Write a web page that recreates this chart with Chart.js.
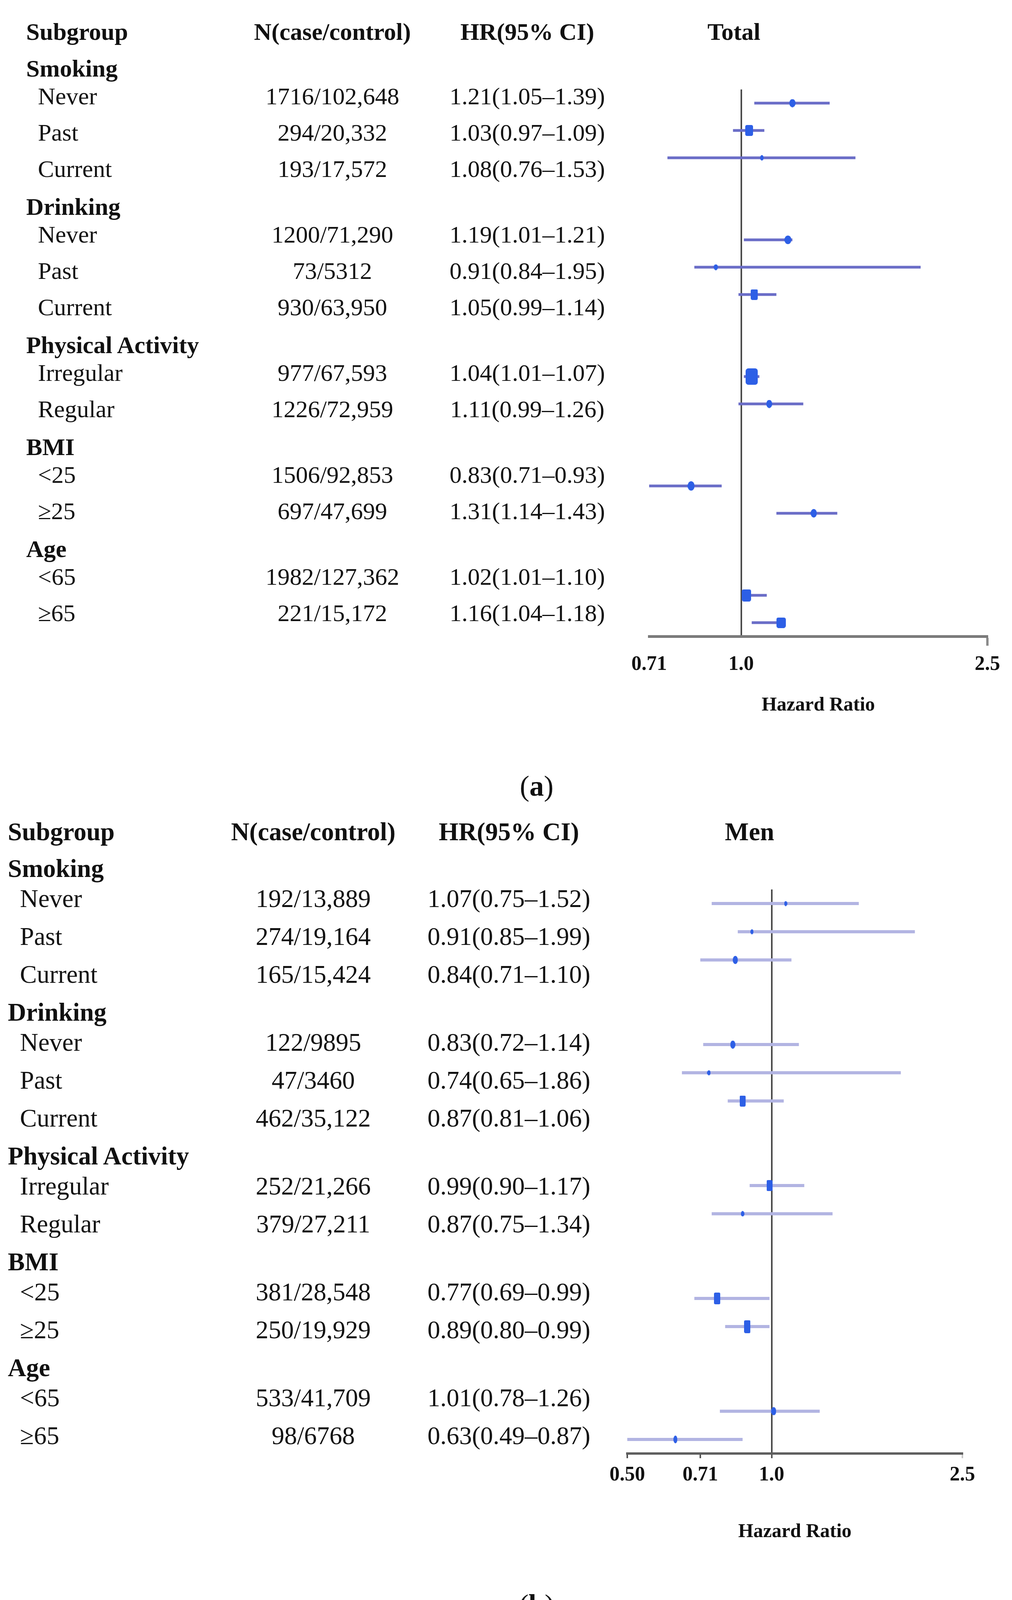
<!DOCTYPE html>
<html><head><meta charset="utf-8">
<script src="https://cdn.jsdelivr.net/npm/chart.js@4.4.1/dist/chart.umd.min.js"></script>
<style>
html,body{margin:0;padding:0;background:#fff;}
#page{position:relative;width:2591px;height:4173px;overflow:hidden;background:#fff;font-family:'Liberation Serif','Times New Roman',serif;color:#111;}
.t{position:absolute;white-space:nowrap;line-height:1;}
.c{transform:translateX(-50%);}
.b{font-weight:bold;}
canvas{position:absolute;}
</style></head><body><div id="page"></div>
<script>
// ---------------- DATA ----------------
const groupNames = ['Smoking', 'Drinking', 'Physical Activity', 'BMI', 'Age'];
const levelNames = [['Never', 'Past', 'Current'], ['Never', 'Past', 'Current'], ['Irregular', 'Regular'], ['<25', '\u226525'], ['<65', '\u226565']];

const totalN  = ['1716/102,648', '294/20,332', '193/17,572', '1200/71,290', '73/5312', '930/63,950', '977/67,593', '1226/72,959', '1506/92,853', '697/47,699', '1982/127,362', '221/15,172'];
const totalHR = [1.21, 1.03, 1.08, 1.19, 0.91, 1.05, 1.04, 1.11, 0.83, 1.31, 1.02, 1.16];
const totalLo = [1.05, 0.97, 0.76, 1.01, 0.84, 0.99, 1.01, 0.99, 0.71, 1.14, 1.01, 1.04];
const totalHi = [1.39, 1.09, 1.53, 1.21, 1.95, 1.14, 1.07, 1.26, 0.93, 1.43, 1.10, 1.18];

const menN  = ['192/13,889', '274/19,164', '165/15,424', '122/9895', '47/3460', '462/35,122', '252/21,266', '379/27,211', '381/28,548', '250/19,929', '533/41,709', '98/6768'];
const menHR = [1.07, 0.91, 0.84, 0.83, 0.74, 0.87, 0.99, 0.87, 0.77, 0.89, 1.01, 0.63];
const menLo = [0.75, 0.85, 0.71, 0.72, 0.65, 0.81, 0.90, 0.75, 0.69, 0.80, 0.78, 0.49];
const menHi = [1.52, 1.99, 1.10, 1.14, 1.86, 1.06, 1.17, 1.34, 0.99, 0.99, 1.26, 0.87];

const totalTicks = [0.71, 1.0, 2.5];
const totalTickLabels = ['0.71', '1.0', '2.5'];
const menTicks = [0.5, 0.71, 1.0, 2.5];
const menTickLabels = ['0.50', '0.71', '1.0', '2.5'];

const headers = ['Subgroup', 'N(case/control)', 'HR(95% CI)'];
const axisTitle = 'Hazard Ratio';

// ---------------- STYLE / LAYOUT ----------------
const page = document.getElementById('page');
const FONT = "'Liberation Serif','Times New Roman',serif";

function addText(txt, x, yc, size, bold, center) {
  const d = document.createElement('div');
  d.className = 't' + (bold ? ' b' : '') + (center ? ' c' : '');
  d.textContent = txt;
  d.style.left = x + 'px';
  d.style.top = (yc - size / 2) + 'px';
  d.style.fontSize = size + 'px';
  page.appendChild(d);
  return d;
}

function hrText(h, l, u) { return h.toFixed(2) + '(' + l.toFixed(2) + '\u2013' + u.toFixed(2) + ')'; }

function drawTable(L, nArr, hr, lo, hi, plotTitle) {
  addText(headers[0], L.xGroup, L.headerY, L.size, true, false);
  addText(headers[1], L.xN, L.headerY, L.size, true, true);
  addText(headers[2], L.xHR, L.headerY, L.size, true, true);
  addText(plotTitle, L.xPlot, L.headerY, L.size, true, true);
  let y = L.firstGroupY, k = 0;
  groupNames.forEach((g, gi) => {
    addText(g, L.xGroup, y, L.size, true, false);
    y += L.groupToLevel;
    levelNames[gi].forEach((lv, li) => {
      if (li > 0) y += L.levelStep;
      addText(lv, L.xLevel, y, L.size, false, false);
      addText(nArr[k], L.xN, y, L.size, false, true);
      addText(hrText(hr[k], lo[k], hi[k]), L.xHR, y, L.size, false, true);
      k++;
    });
    y += L.levelToGroup;
  });
}

function addCaption(letter, x, yc, size) {
  const d = document.createElement('div');
  d.className = 't c';
  d.style.left = x + 'px';
  d.style.top = (yc - size / 2) + 'px';
  d.style.fontSize = size + 'px';
  d.innerHTML = '(<b>' + letter + '</b>)';
  page.appendChild(d);
}

// row categories for the plots (two blank rows between groups)
const rowLabels = [];
const dataRowLabels = [];
groupNames.forEach((g, gi) => {
  levelNames[gi].forEach(l => { const key = g + ': ' + l; rowLabels.push(key); dataRowLabels.push(key); });
  if (gi < groupNames.length - 1) { rowLabels.push(' '.repeat(2 * gi + 1)); rowLabels.push(' '.repeat(2 * gi + 2)); }
});

function markerCanvas(m, color) {
  const w = m[0], h = m[1];
  const c = document.createElement('canvas');
  c.width = w; c.height = h;
  const g = c.getContext('2d');
  g.fillStyle = color;
  g.beginPath();
  if (m[2] === 'e') g.ellipse(w / 2, h / 2, w / 2, h / 2, 0, 0, Math.PI * 2);
  else if (g.roundRect) g.roundRect(0, 0, w, h, Math.min(w, h) * 0.22);
  else g.rect(0, 0, w, h);
  g.fill();
  return c;
}

function buildForest(S, hr, lo, hi, tickVals, tickLabels) {
  const cv = document.createElement('canvas');
  cv.width = S.width; cv.height = S.height;
  cv.style.left = S.left + 'px'; cv.style.top = S.top + 'px';
  cv.style.width = S.width + 'px'; cv.style.height = S.height + 'px';
  page.appendChild(cv);

  const datasets = [{
    data: hr.map((v, i) => ({ x: v, y: dataRowLabels[i] })),
    pointStyle: S.markers.map(m => markerCanvas(m, S.markerColor)),
    pointRadius: 6,
    showLine: false
  }];
  lo.forEach((l, i) => {
    datasets.push({
      data: [{ x: l, y: dataRowLabels[i] }, { x: hi[i], y: dataRowLabels[i] }],
      showLine: true, borderColor: S.ciColor, borderWidth: S.ciWidth,
      pointRadius: 0, borderCapStyle: 'butt', fill: false
    });
  });

  const tickFont = { family: FONT, weight: 'bold', size: S.tickFont };
  new Chart(cv, {
    type: 'scatter',
    data: { datasets },
    options: {
      responsive: false, animation: false, events: [],
      layout: { padding: S.pad },
      plugins: { legend: { display: false }, tooltip: { enabled: false } },
      scales: {
        y: { type: 'category', labels: rowLabels, offset: true, display: false },
        x: {
          type: 'logarithmic', min: tickVals[0], max: tickVals[tickVals.length - 1], bounds: 'data',
          afterBuildTicks: s => { s.ticks = tickVals.map(v => ({ value: v })); },
          afterFit: s => { s.height = S.axisHeight; },
          ticks: {
            callback: (v, i) => tickLabels[i], autoSkip: false, maxRotation: 0,
            font: tickFont, color: '#111', padding: S.tickPad
          },
          grid: {
            color: c => (c.tick && c.tick.value === 1) ? S.refColor : 'rgba(0,0,0,0)',
            lineWidth: S.refWidth,
            tickLength: S.tickLength,
            tickColor: c => S.tickColorFn(c.tick ? c.tick.value : 0),
            tickWidth: S.tickWidth
          },
          border: { display: true, color: S.borderColor, width: S.borderWidth },
          title: {
            display: true, text: axisTitle, color: '#111',
            font: { family: FONT, weight: 'bold', size: S.titleFont },
            padding: { top: 0, bottom: S.titlePadBottom }
          }
        }
      }
    }
  });
}

// ---------------- PANEL (a) ----------------
const tableA = { headerY: 81, firstGroupY: 175, groupToLevel: 71, levelStep: 93, levelToGroup: 97, size: 62,
  xGroup: 67, xLevel: 97, xN: 851, xHR: 1350, xPlot: 1879 };
drawTable(tableA, totalN, totalHR, totalLo, totalHi, 'Total');

const styleA = {
  left: 1540, top: 180, width: 1051, height: 1669,
  pad: { left: 122, right: 63, top: 49, bottom: 0 },
  axisHeight: 220, tickLength: 24, tickPad: 17, titlePadBottom: 13,
  tickFont: 52, titleFont: 50,
  ciColor: '#6a6dc7', ciWidth: 7, markerColor: '#2d5fe6',
  refColor: '#4a4a4a', refWidth: 4, borderColor: '#7b7b7b', borderWidth: 7,
  tickColorFn: v => v === 2.5 ? '#8a8a8a' : 'rgba(0,0,0,0)', tickWidth: 6,
  markers: [[16, 21, 'e'], [20, 28, 'r'], [9, 14, 'e'], [18, 22, 'e'], [11, 15, 'e'], [18, 27, 'r'],
            [31, 42, 'r'], [15, 21, 'e'], [18, 24, 'e'], [16, 22, 'e'], [24, 31, 'r'], [24, 27, 'r']]
};
buildForest(styleA, totalHR, totalLo, totalHi, totalTicks, totalTickLabels);
addCaption('a', 1374, 2012, 74);

// ---------------- PANEL (b) ----------------
const tableB = { headerY: 2129, firstGroupY: 2223, groupToLevel: 77, levelStep: 97, levelToGroup: 97, size: 65,
  xGroup: 20, xLevel: 51, xN: 802, xHR: 1303, xPlot: 1919 };
drawTable(tableB, menN, menHR, menLo, menHi, 'Men');

const styleB = {
  left: 1500, top: 2200, width: 1091, height: 1761,
  pad: { left: 106, right: 127, top: 77, bottom: 0 },
  axisHeight: 240, tickLength: 12, tickPad: 12, titlePadBottom: 9,
  tickFont: 52, titleFont: 50,
  ciColor: '#b2b4e2', ciWidth: 8, markerColor: '#2d5fe6',
  refColor: '#4a4a4a', refWidth: 4, borderColor: '#5e5e5e', borderWidth: 6,
  tickColorFn: v => v === 2.5 ? '#c8c8c8' : '#555', tickWidth: 4,
  markers: [[8, 13, 'e'], [8, 13, 'e'], [13, 21, 'e'], [13, 21, 'e'], [9, 13, 'e'], [15, 28, 'r'],
            [15, 28, 'r'], [9, 14, 'e'], [16, 30, 'r'], [16, 33, 'r'], [13, 21, 'e'], [10, 20, 'e']]
};
buildForest(styleB, menHR, menLo, menHi, menTicks, menTickLabels);
addCaption('b', 1374, 4108, 74);
</script>
</body></html>
